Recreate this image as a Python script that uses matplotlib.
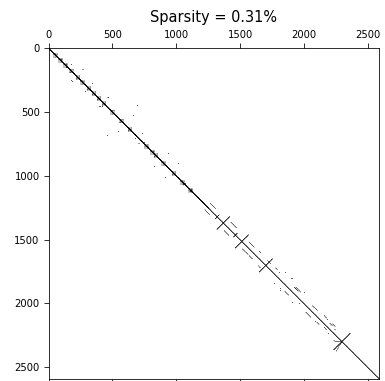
import numpy as np
import matplotlib
matplotlib.use("Agg")
import matplotlib.pyplot as plt

# ---- data ----
n = 2590
title_text = "Sparsity = 0.31%"

# extra near-diagonal band (upper part of the matrix)
band_rows_end = 1250
band_offsets = [-2, 2]

# small grey blocks on the diagonal
block_centers = [50, 90, 129, 174, 226, 262, 312, 352, 391, 430, 496, 566,
                 634, 765, 811, 837, 896, 979, 1045, 1110]
block_half = 15
block_step = 6

# dark single entries on the diagonal
dark_points = [673, 1201]

# anti-diagonal crosses
cross_centers = [1060, 1112, 1317, 1365, 1460, 1510, 1698, 2295]
cross_half = [8, 8, 15, 50, 15, 52, 52, 65]

# segments parallel to the diagonal: start row, end row, offset (col - row)
seg_start = [1209, 1261, 1358, 1424, 1515, 1567, 1586, 1620, 1660, 1716,
             1700, 1868, 1900, 1868, 2012, 2064, 2090, 2142, 2150, 2182, 2155]
seg_end = [1253, 1300, 1405, 1463, 1555, 1612, 1600, 1646, 1685, 1730,
           1716, 1900, 1930, 1907, 2051, 2104, 2110, 2160, 2170, 2200, 2175]
seg_offset = [52, -41, 66, -53, 52, -52, 60, -52, 52, 60,
              -60, 52, -52, 65, 52, -52, 65, -44, 50, -27, 66]
seg_step = 2

# fan around the last cross: start row/col, end row/col
fan_r0 = [2295, 2295]
fan_c0 = [2295, 2295]
fan_r1 = [2370, 2290]
fan_c1 = [2250, 2230]

# scattered entries (row, col), each a tiny cluster
scatter_rows = [147, 122, 163, 253, 273, 331, 383, 451, 451, 443, 522, 645,
                678, 731, 817, 922, 1006, 901, 665, 704, 739, 161, 248, 321,
                384, 452, 1751, 1802, 1881, 1881, 1907, 1998, 1751, 1802,
                1842, 1907, 1986, 1894, 2120, 2200, 2230, 2140]
scatter_cols = [137, 174, 265, 182, 339, 281, 461, 399, 417, 692, 660, 540,
                456, 744, 935, 822, 914, 1013, 731, 678, 704, 169, 177, 313,
                462, 392, 1855, 1902, 1816, 1933, 1998, 1959, 1802, 1907,
                1763, 1998, 1907, 1816, 2180, 2240, 2190, 2090]
scatter_size = 2

# ---- build the matrix ----
A = np.zeros((n, n), dtype=bool)
idx = np.arange(n)
A[idx, idx] = True
for off in band_offsets:
    r = np.arange(max(0, -off), min(band_rows_end, n - off))
    A[r, r + off] = True
for c in block_centers:
    g = np.arange(c - block_half, c + block_half + 1, block_step)
    rr, cc = np.meshgrid(g, g)
    A[rr.ravel(), cc.ravel()] = True
for c, h in zip(cross_centers, cross_half):
    k = np.arange(-h, h + 1)
    A[c + k, c - k] = True
for s, e, o in zip(seg_start, seg_end, seg_offset):
    r = np.arange(s, e + 1, seg_step)
    A[r, r + o] = True
for r0, c0, r1, c1 in zip(fan_r0, fan_c0, fan_r1, fan_c1):
    t = np.linspace(0, 1, 25)
    A[np.round(r0 + t * (r1 - r0)).astype(int), np.round(c0 + t * (c1 - c0)).astype(int)] = True
for r, c in zip(scatter_rows, scatter_cols):
    A[r:r + scatter_size, c:c + scatter_size] = True
for p in dark_points:
    A[p - 2:p + 3, p - 2:p + 3] = True

# ---- draw ----
dpi = 72
fig = plt.figure(figsize=(385 / dpi, 381 / dpi), dpi=dpi)
ax = fig.add_axes([48.3 / 385, (381 - 378.7) / 381, 331 / 385, 330.4 / 381])
ax.spy(A, markersize=0.35, color='k', marker='s', markeredgewidth=0)
ax.set_xticks([0, 500, 1000, 1500, 2000, 2500])
ax.set_yticks([0, 500, 1000, 1500, 2000, 2500])
ax.tick_params(labelsize=10, length=5)
ax.tick_params(axis='y', pad=4)
ax.set_title(title_text, fontsize=14.5, pad=8)
fig.savefig("out.png", dpi=dpi)
